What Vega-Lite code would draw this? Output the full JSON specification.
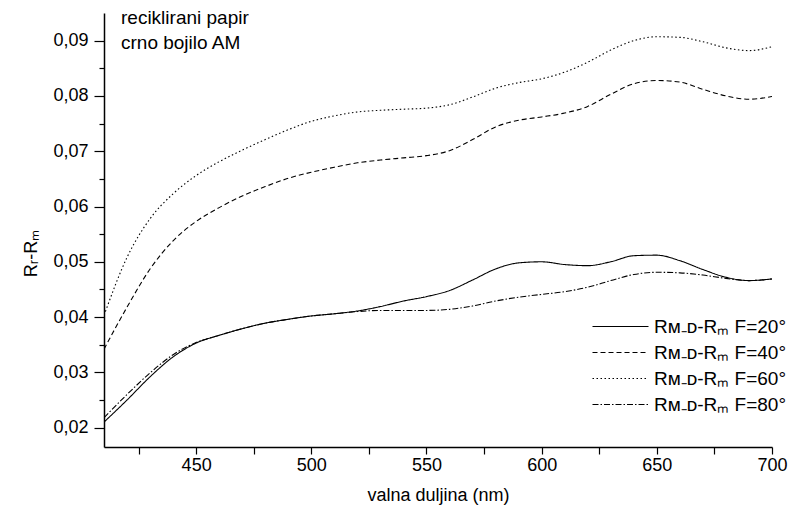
{
  "$schema": "https://vega.github.io/schema/vega-lite/v6.json",
  "autosize": {"type": "none"},
  "width": 668,
  "height": 434,
  "padding": {"left": 104, "top": 13, "right": 17, "bottom": 68},
  "background": "white",
  "config": {
    "font": "Liberation Sans",
    "view": {"stroke": null},
    "axis": {"grid": false, "domainColor": "black", "domainWidth": 1.5, "tickColor": "black", "tickWidth": 1.2, "labelColor": "black", "titleColor": "black", "labelFont": "Liberation Sans", "titleFont": "Liberation Sans", "labelFontSize": 18, "titleFontSize": 18, "titleFontWeight": "normal"}
  },
  "title": {
    "text": ["reciklirani papir", "crno bojilo AM"],
    "anchor": "start",
    "frame": "group",
    "orient": "top",
    "font": "Liberation Sans",
    "fontSize": 19,
    "fontWeight": "normal",
    "color": "black",
    "lineHeight": 25,
    "baseline": "top",
    "offset": 0,
    "dx": 17,
    "dy": 40
  },
  "data": {
    "values": [
      {"wl": 410, "v": 0.0210, "s": "F=20"}, {"wl": 420, "v": 0.0250, "s": "F=20"}, {"wl": 430, "v": 0.0292, "s": "F=20"}, {"wl": 440, "v": 0.0328, "s": "F=20"}, {"wl": 450, "v": 0.0353, "s": "F=20"}, {"wl": 460, "v": 0.0367, "s": "F=20"}, {"wl": 470, "v": 0.0379, "s": "F=20"}, {"wl": 480, "v": 0.0389, "s": "F=20"}, {"wl": 490, "v": 0.0396, "s": "F=20"}, {"wl": 500, "v": 0.0402, "s": "F=20"}, {"wl": 510, "v": 0.0406, "s": "F=20"}, {"wl": 520, "v": 0.0411, "s": "F=20"}, {"wl": 530, "v": 0.0419, "s": "F=20"}, {"wl": 540, "v": 0.0429, "s": "F=20"}, {"wl": 550, "v": 0.0437, "s": "F=20"}, {"wl": 560, "v": 0.0448, "s": "F=20"}, {"wl": 570, "v": 0.0467, "s": "F=20"}, {"wl": 580, "v": 0.0487, "s": "F=20"}, {"wl": 590, "v": 0.0498, "s": "F=20"}, {"wl": 600, "v": 0.0500, "s": "F=20"}, {"wl": 610, "v": 0.0495, "s": "F=20"}, {"wl": 620, "v": 0.0493, "s": "F=20"}, {"wl": 630, "v": 0.0500, "s": "F=20"}, {"wl": 640, "v": 0.0511, "s": "F=20"}, {"wl": 650, "v": 0.0512, "s": "F=20"}, {"wl": 660, "v": 0.0502, "s": "F=20"}, {"wl": 670, "v": 0.0486, "s": "F=20"}, {"wl": 680, "v": 0.0472, "s": "F=20"}, {"wl": 690, "v": 0.0466, "s": "F=20"}, {"wl": 700, "v": 0.0469, "s": "F=20"},
      {"wl": 410, "v": 0.0342, "s": "F=40"}, {"wl": 420, "v": 0.0418, "s": "F=40"}, {"wl": 430, "v": 0.0487, "s": "F=40"}, {"wl": 440, "v": 0.0538, "s": "F=40"}, {"wl": 450, "v": 0.0573, "s": "F=40"}, {"wl": 460, "v": 0.0598, "s": "F=40"}, {"wl": 470, "v": 0.0619, "s": "F=40"}, {"wl": 480, "v": 0.0636, "s": "F=40"}, {"wl": 490, "v": 0.0651, "s": "F=40"}, {"wl": 500, "v": 0.0662, "s": "F=40"}, {"wl": 510, "v": 0.0671, "s": "F=40"}, {"wl": 520, "v": 0.0679, "s": "F=40"}, {"wl": 530, "v": 0.0684, "s": "F=40"}, {"wl": 540, "v": 0.0688, "s": "F=40"}, {"wl": 550, "v": 0.0692, "s": "F=40"}, {"wl": 560, "v": 0.0701, "s": "F=40"}, {"wl": 570, "v": 0.0721, "s": "F=40"}, {"wl": 580, "v": 0.0744, "s": "F=40"}, {"wl": 590, "v": 0.0756, "s": "F=40"}, {"wl": 600, "v": 0.0762, "s": "F=40"}, {"wl": 610, "v": 0.0769, "s": "F=40"}, {"wl": 620, "v": 0.0781, "s": "F=40"}, {"wl": 630, "v": 0.0803, "s": "F=40"}, {"wl": 640, "v": 0.0822, "s": "F=40"}, {"wl": 650, "v": 0.0828, "s": "F=40"}, {"wl": 660, "v": 0.0825, "s": "F=40"}, {"wl": 670, "v": 0.0812, "s": "F=40"}, {"wl": 680, "v": 0.0800, "s": "F=40"}, {"wl": 690, "v": 0.0794, "s": "F=40"}, {"wl": 700, "v": 0.0799, "s": "F=40"},
      {"wl": 410, "v": 0.0403, "s": "F=60"}, {"wl": 420, "v": 0.0508, "s": "F=60"}, {"wl": 430, "v": 0.0578, "s": "F=60"}, {"wl": 440, "v": 0.0623, "s": "F=60"}, {"wl": 450, "v": 0.0656, "s": "F=60"}, {"wl": 460, "v": 0.0681, "s": "F=60"}, {"wl": 470, "v": 0.0702, "s": "F=60"}, {"wl": 480, "v": 0.0721, "s": "F=60"}, {"wl": 490, "v": 0.0739, "s": "F=60"}, {"wl": 500, "v": 0.0754, "s": "F=60"}, {"wl": 510, "v": 0.0764, "s": "F=60"}, {"wl": 520, "v": 0.0771, "s": "F=60"}, {"wl": 530, "v": 0.0774, "s": "F=60"}, {"wl": 540, "v": 0.0776, "s": "F=60"}, {"wl": 550, "v": 0.0778, "s": "F=60"}, {"wl": 560, "v": 0.0784, "s": "F=60"}, {"wl": 570, "v": 0.0798, "s": "F=60"}, {"wl": 580, "v": 0.0814, "s": "F=60"}, {"wl": 590, "v": 0.0824, "s": "F=60"}, {"wl": 600, "v": 0.0831, "s": "F=60"}, {"wl": 610, "v": 0.0843, "s": "F=60"}, {"wl": 620, "v": 0.0861, "s": "F=60"}, {"wl": 630, "v": 0.0883, "s": "F=60"}, {"wl": 640, "v": 0.0900, "s": "F=60"}, {"wl": 650, "v": 0.0907, "s": "F=60"}, {"wl": 660, "v": 0.0906, "s": "F=60"}, {"wl": 670, "v": 0.0898, "s": "F=60"}, {"wl": 680, "v": 0.0887, "s": "F=60"}, {"wl": 690, "v": 0.0882, "s": "F=60"}, {"wl": 700, "v": 0.0889, "s": "F=60"},
      {"wl": 410, "v": 0.0218, "s": "F=80"}, {"wl": 420, "v": 0.0260, "s": "F=80"}, {"wl": 430, "v": 0.0299, "s": "F=80"}, {"wl": 440, "v": 0.0332, "s": "F=80"}, {"wl": 450, "v": 0.0354, "s": "F=80"}, {"wl": 460, "v": 0.0367, "s": "F=80"}, {"wl": 470, "v": 0.0379, "s": "F=80"}, {"wl": 480, "v": 0.0389, "s": "F=80"}, {"wl": 490, "v": 0.0396, "s": "F=80"}, {"wl": 500, "v": 0.0402, "s": "F=80"}, {"wl": 510, "v": 0.0406, "s": "F=80"}, {"wl": 520, "v": 0.0410, "s": "F=80"}, {"wl": 530, "v": 0.0412, "s": "F=80"}, {"wl": 540, "v": 0.0412, "s": "F=80"}, {"wl": 550, "v": 0.0412, "s": "F=80"}, {"wl": 560, "v": 0.0414, "s": "F=80"}, {"wl": 570, "v": 0.0420, "s": "F=80"}, {"wl": 580, "v": 0.0429, "s": "F=80"}, {"wl": 590, "v": 0.0436, "s": "F=80"}, {"wl": 600, "v": 0.0441, "s": "F=80"}, {"wl": 610, "v": 0.0446, "s": "F=80"}, {"wl": 620, "v": 0.0454, "s": "F=80"}, {"wl": 630, "v": 0.0466, "s": "F=80"}, {"wl": 640, "v": 0.0477, "s": "F=80"}, {"wl": 650, "v": 0.0481, "s": "F=80"}, {"wl": 660, "v": 0.0480, "s": "F=80"}, {"wl": 670, "v": 0.0476, "s": "F=80"}, {"wl": 680, "v": 0.0470, "s": "F=80"}, {"wl": 690, "v": 0.0466, "s": "F=80"}, {"wl": 700, "v": 0.0469, "s": "F=80"}
    ]
  },
  "mark": {"type": "line", "interpolate": "monotone", "color": "black", "strokeWidth": 1.1, "clip": true},
  "encoding": {
    "x": {
      "field": "wl", "type": "quantitative",
      "scale": {"domain": [410, 700], "nice": false, "zero": false},
      "axis": {
        "title": "valna duljina (nm)",
        "values": [425, 450, 475, 500, 525, 550, 575, 600, 625, 650, 675, 700],
        "labelExpr": "datum.value % 50 == 0 ? datum.label : ''",
        "tickSize": 7,
        "labelPadding": 2,
        "titlePadding": 12,
        "labelFlush": false,
        "labelOverlap": false
      }
    },
    "y": {
      "field": "v", "type": "quantitative",
      "scale": {"domain": [0.0165, 0.095], "nice": false, "zero": false},
      "axis": {
        "title": "Rᵣ-Rₘ",
        "titleY": 240,
        "values": [0.02, 0.025, 0.03, 0.035, 0.04, 0.045, 0.05, 0.055, 0.06, 0.065, 0.07, 0.075, 0.08, 0.085, 0.09],
        "labelExpr": "(round(datum.value * 1000) % 10 == 0) ? replace(format(datum.value, '.2f'), '.', ',') : ''",
        "tickSize": {"condition": {"test": "round(datum.value * 1000) % 10 == 0", "value": 10}, "value": 5},
        "labelPadding": 6,
        "titlePadding": 12,
        "labelOverlap": false,
        "labelFlush": false
      }
    },
    "strokeDash": {
      "field": "s", "type": "nominal",
      "scale": {"domain": ["F=20", "F=40", "F=60", "F=80"], "range": [[1, 0], [5, 3], [1.5, 2.5], [6, 2, 1.5, 2]]},
      "legend": {
        "title": null,
        "orient": "none",
        "legendX": 507,
        "legendY": 304,
        "padding": 0,
        "symbolType": "M-4,0H4",
        "symbolSize": 196,
        "symbolStrokeColor": "black",
        "symbolStrokeWidth": 1.1,
        "rowPadding": 6,
        "labelFont": "Liberation Sans",
        "labelFontSize": 19,
        "labelColor": "black",
        "labelOffset": 24,
        "labelExpr": "'Rᴍ₋ᴅ-Rₘ ' + datum.label + '°'",
        "labelLimit": 400
      }
    }
  }
}
